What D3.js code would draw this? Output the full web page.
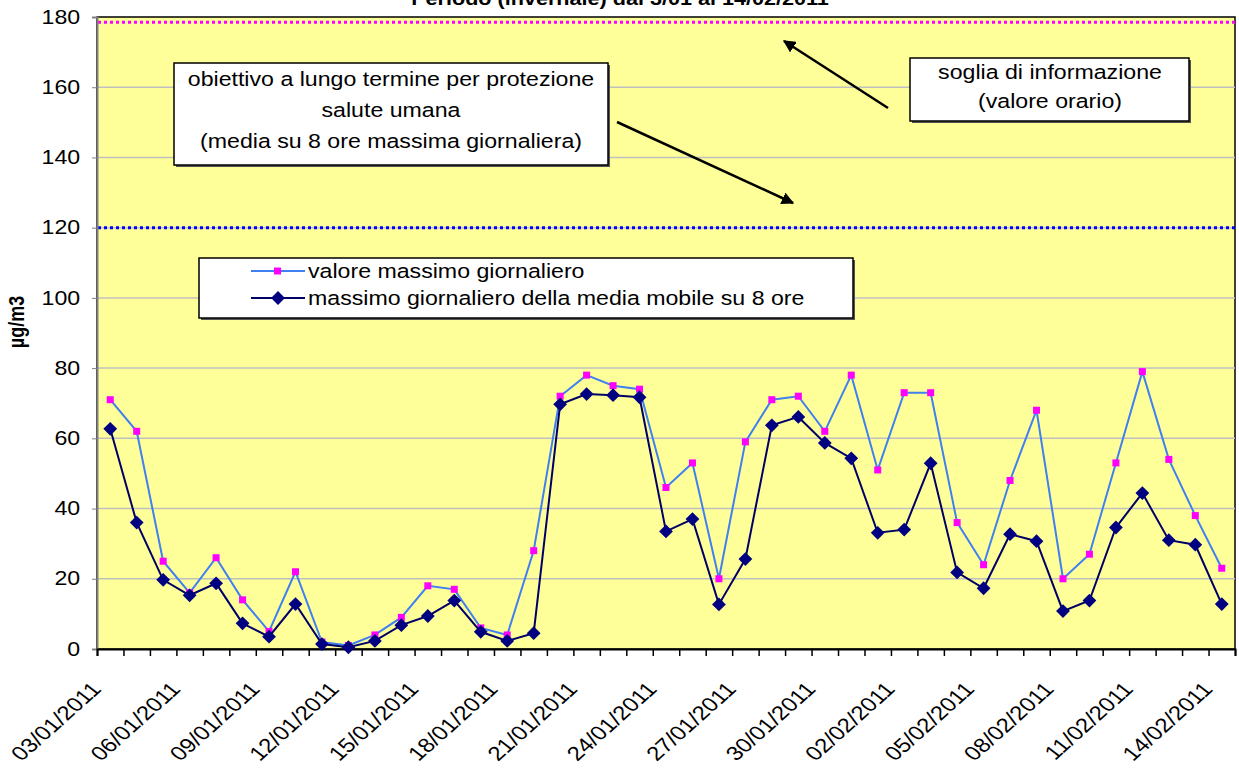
<!DOCTYPE html>
<html>
<head>
<meta charset="utf-8">
<script src="https://cdn.jsdelivr.net/npm/d3@7"></script>
<style>
  body { margin: 0; background: #fff; }
  svg { display: block; font-family: Arial, "Liberation Sans", sans-serif; }
</style>
</head>
<body>
<svg width="1239" height="776"></svg>
<script>
// data
const dates = ["03/01/2011","04/01/2011","05/01/2011","06/01/2011","07/01/2011","08/01/2011","09/01/2011",
  "10/01/2011","11/01/2011","12/01/2011","13/01/2011","14/01/2011","15/01/2011","16/01/2011","17/01/2011",
  "18/01/2011","19/01/2011","20/01/2011","21/01/2011","22/01/2011","23/01/2011","24/01/2011","25/01/2011",
  "26/01/2011","27/01/2011","28/01/2011","29/01/2011","30/01/2011","31/01/2011","01/02/2011","02/02/2011",
  "03/02/2011","04/02/2011","05/02/2011","06/02/2011","07/02/2011","08/02/2011","09/02/2011","10/02/2011",
  "11/02/2011","12/02/2011","13/02/2011","14/02/2011"];
const valoreMassimo = [71,62,25,16,26,14,5,22,2,1,4,9,18,17,6,4,28,72,78,75,74,46,53,20,59,71,72,62,78,
  51,73,73,36,24,48,68,20,27,53,79,54,38,23];
const mediaMobile = [62.7,36,19.7,15.3,18.7,7.3,3.5,12.8,1.4,0.5,2.3,6.8,9.4,13.8,4.9,2.3,4.5,69.7,72.6,72.3,71.7,
  33.5,37,12.7,25.6,63.7,66.1,58.7,54.3,33.1,34,52.9,21.8,17.3,32.7,30.7,10.8,13.8,34.6,44.4,31,29.7,12.8];
const yTicks = [0,20,40,60,80,100,120,140,160,180];
const sogliaInformazione = 178.5;
const obiettivoLungoTermine = 120;
const seriesNames = ["valore massimo giornaliero", "massimo giornaliero della media mobile su 8 ore"];

const svg = d3.select("svg");
const SX = "scale(1.2,1)";   // the picture is a little stretched sideways
const FS = "19.3px";

const x = d3.scaleBand().domain(dates).range([97, 1235]);
const xi = d3.scaleLinear().domain([0, dates.length]).range([97, 1235]);
const y = d3.scaleLinear().domain([0, 180]).range([649, 17]);
const cx = d => x(d) + x.bandwidth() / 2;

svg.append("defs").append("marker")
  .attr("id", "arrow").attr("viewBox", "0 0 10 10").attr("refX", 9).attr("refY", 5)
  .attr("markerWidth", 5).attr("markerHeight", 5).attr("orient", "auto-start-reverse")
  .append("path").attr("d", "M0,0L10,5L0,10z").attr("fill", "#000");

// title (cut at the top, as in the original)
svg.append("text").attr("transform", `translate(620,5) ${SX}`)
  .attr("text-anchor", "middle").attr("font-weight", "bold").attr("font-size", "18px")
  .text("Periodo (invernale) dal 3/01 al 14/02/2011");

// plot area
svg.append("rect").attr("x", 97).attr("y", 17).attr("width", 1138).attr("height", 632)
  .attr("fill", "#ffff99").attr("stroke", "#000").attr("stroke-width", 1.5);

svg.append("g").selectAll("line").data(yTicks.filter(v => v > 0 && v < 180)).join("line")
  .attr("x1", 97).attr("x2", 1235).attr("y1", d => y(d)).attr("y2", d => y(d))
  .attr("stroke", "#c0c0c0").attr("stroke-width", 1.5);

// threshold lines
svg.append("line").attr("x1", 98).attr("x2", 1235).attr("y1", y(sogliaInformazione)).attr("y2", y(sogliaInformazione))
  .attr("stroke", "#ff00ff").attr("stroke-width", 3).attr("stroke-dasharray", "3,3");
svg.append("line").attr("x1", 98).attr("x2", 1235).attr("y1", y(obiettivoLungoTermine)).attr("y2", y(obiettivoLungoTermine))
  .attr("stroke", "#0000ff").attr("stroke-width", 3).attr("stroke-dasharray", "3,3");

// y axis
const yAxis = svg.append("g").attr("transform", "translate(97,0)")
  .call(d3.axisLeft(y).tickValues(yTicks).tickSize(5).tickPadding(9));
yAxis.select(".domain").attr("stroke", "#808080").attr("stroke-width", 2);
yAxis.selectAll(".tick line").attr("stroke", "#808080");
yAxis.selectAll("text").attr("font-size", FS).attr("font-family", "Arial, 'Liberation Sans'")
  .attr("fill", "#000").attr("transform", SX);

svg.append("text").attr("transform", `translate(24,322) ${SX} rotate(-90)`)
  .attr("text-anchor", "middle").attr("font-weight", "bold").attr("font-size", "18px")
  .text("µg/m3");

// x axis
const xAxis = svg.append("g").attr("transform", "translate(0,649)")
  .call(d3.axisBottom(xi).tickValues(d3.range(dates.length + 1)).tickSize(7).tickFormat(""));
xAxis.select(".domain").attr("stroke", "#000").attr("stroke-width", 2);
xAxis.selectAll(".tick line").attr("stroke", "#000").attr("stroke-width", 1.5);

svg.append("g").selectAll("text").data(dates.filter((d, i) => i % 3 === 0)).join("text")
  .attr("transform", d => `translate(${cx(d) - 8},690) ${SX} rotate(-47)`)
  .attr("text-anchor", "end").attr("font-size", "20px")
  .text(d => d);

// series
const line = d3.line().x((d, i) => cx(dates[i])).y(d => y(d));

svg.append("path").datum(valoreMassimo).attr("d", line)
  .attr("fill", "none").attr("stroke", "#4080f0").attr("stroke-width", 2);
svg.append("g").selectAll("rect").data(valoreMassimo).join("rect")
  .attr("x", (d, i) => cx(dates[i]) - 3.5).attr("y", d => y(d) - 3.5)
  .attr("width", 7).attr("height", 7).attr("fill", "#ff00ff");

svg.append("path").datum(mediaMobile).attr("d", line)
  .attr("fill", "none").attr("stroke", "#000066").attr("stroke-width", 2);
const diamond = d3.symbol(d3.symbolSquare, 95);
svg.append("g").selectAll("path").data(mediaMobile).join("path")
  .attr("d", diamond)
  .attr("transform", (d, i) => `translate(${cx(dates[i])},${y(d)}) rotate(45)`)
  .attr("fill", "#000080");

// annotation boxes
function box(x0, y0, w, h) {
  svg.append("rect").attr("x", x0 + 2).attr("y", y0 + 2).attr("width", w).attr("height", h).attr("fill", "#555");
  svg.append("rect").attr("x", x0).attr("y", y0).attr("width", w).attr("height", h)
    .attr("fill", "#fff").attr("stroke", "#000").attr("stroke-width", 1.5);
}
function lines(txt, xc, y0, step) {
  txt.forEach((t, i) => svg.append("text").attr("transform", `translate(${xc},${y0 + i * step}) ${SX}`)
    .attr("text-anchor", "middle").attr("font-size", FS).text(t));
}
box(174, 63, 434, 102);
lines(["obiettivo a lungo termine per protezione", "salute umana", "(media su 8 ore massima giornaliera)"], 391, 86, 31);
box(910, 58, 279, 63);
lines(["soglia di informazione", "(valore orario)"], 1050, 79, 29);

svg.append("line").attr("x1", 888).attr("y1", 108).attr("x2", 784).attr("y2", 41)
  .attr("stroke", "#000").attr("stroke-width", 2.5).attr("marker-end", "url(#arrow)");
svg.append("line").attr("x1", 617).attr("y1", 122).attr("x2", 793).attr("y2", 203)
  .attr("stroke", "#000").attr("stroke-width", 2.5).attr("marker-end", "url(#arrow)");

// legend
box(199, 258, 654, 60);
const leg = svg.append("g");
[[271, "#4080f0"], [298, "#000066"]].forEach(([ly, col], i) => {
  leg.append("line").attr("x1", 251).attr("x2", 305).attr("y1", ly).attr("y2", ly)
    .attr("stroke", col).attr("stroke-width", 2);
  if (i === 0) {
    leg.append("rect").attr("x", 274).attr("y", ly - 3.5).attr("width", 7).attr("height", 7).attr("fill", "#ff00ff");
  } else {
    leg.append("path").attr("d", diamond).attr("transform", `translate(278,${ly}) rotate(45)`).attr("fill", "#000080");
  }
  leg.append("text").attr("transform", `translate(308,${ly + 7}) ${SX}`)
    .attr("font-size", FS).text(seriesNames[i]);
});
</script>
</body>
</html>
